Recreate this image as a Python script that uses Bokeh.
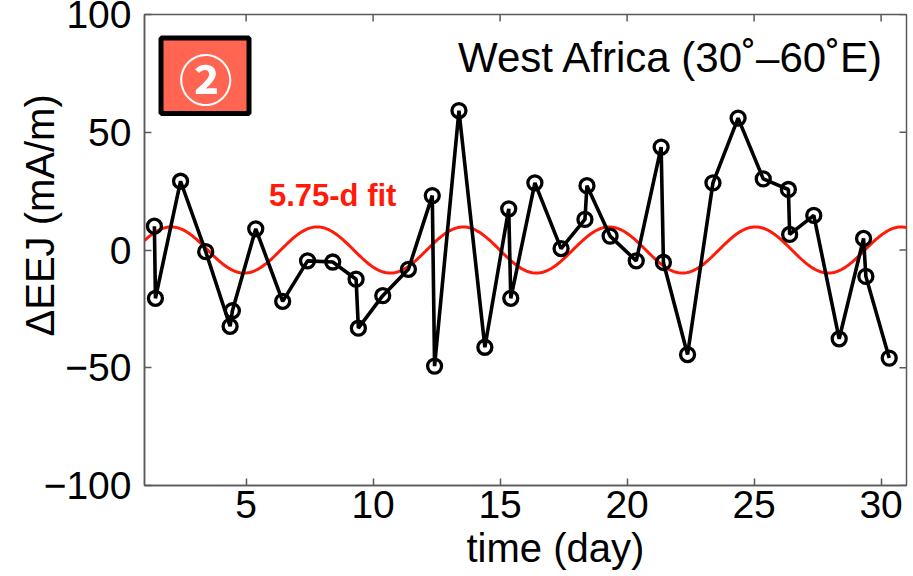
import numpy as np
from bokeh.plotting import figure
from bokeh.models import Range1d, FixedTicker, BoxAnnotation, Label, Title
from bokeh.embed import file_html
from bokeh.resources import INLINE

# ---- data ----
days = [1.39, 1.43, 2.42, 3.41, 4.37, 4.46, 5.38, 6.44, 7.42, 8.41,
        9.33, 9.42, 10.38, 11.39, 12.33, 12.42, 13.38, 14.40, 15.34, 15.42,
        16.37, 17.40, 18.34, 18.42, 19.33, 20.36, 21.34, 21.43, 22.38, 23.38,
        24.37, 25.36, 26.35, 26.40, 27.35, 28.35, 29.31, 29.40, 30.32]
delta_eej = [10.1, -20.5, 29.2, -0.7, -32.4, -25.8, 9.0, -21.8, -4.6, -5.1,
             -12.4, -33.2, -19.4, -8.2, 23.1, -49.3, 59.2, -41.3, 17.5, -20.5,
             28.5, 0.6, 13.0, 27.3, 5.9, -4.6, 43.7, -5.3, -44.4, 28.5,
             56.0, 30.2, 25.7, 6.6, 14.7, -37.7, 4.9, -11.2, -45.9]

# 5.75-day sinusoidal fit parameters
FIT_PERIOD = 5.75
FIT_AMP = 9.8
FIT_PEAK = 2.05

x_ticks = [5, 10, 15, 20, 25, 30]
y_ticks = [-100, -50, 0, 50, 100]
y_tick_labels = {-100: "\u2212100", -50: "\u221250", 0: "0", 50: "50", 100: "100"}
X_MIN, X_MAX = 1, 31
Y_MIN, Y_MAX = -100, 100

AX_COLOR = "#5a5a5a"
FONT = "Liberation Sans"

p = figure(width=913, height=576, x_range=Range1d(X_MIN, X_MAX), y_range=Range1d(Y_MIN, Y_MAX),
           output_backend="svg", toolbar_location=None, title=None,
           min_border_left=144, min_border_right=7, min_border_top=14, min_border_bottom=89)
p.grid.visible = False
p.background_fill_color = "white"
p.border_fill_color = "white"
p.outline_line_color = AX_COLOR
p.outline_line_width = 1.5

for ax in (p.xaxis[0], p.yaxis[0]):
    ax.axis_line_color = AX_COLOR
    ax.axis_line_width = 1.5
    ax.major_tick_line_color = AX_COLOR
    ax.major_tick_line_width = 1.5
    ax.major_tick_in = 7
    ax.major_tick_out = 0
    ax.minor_tick_line_color = None
    ax.major_label_text_font = FONT
    ax.major_label_text_color = "black"
    ax.major_label_text_font_size = "39px"

p.xaxis.ticker = FixedTicker(ticks=x_ticks)
p.yaxis.ticker = FixedTicker(ticks=y_ticks)
p.yaxis.major_label_overrides = y_tick_labels
p.yaxis.major_label_standoff = 13
p.xaxis.major_label_standoff = 5

# inward ticks on the top and right edges of the box
p.scatter(x_ticks, [Y_MAX] * len(x_ticks), marker="dash", angle=np.pi / 2, size=14,
          line_color=AX_COLOR, line_width=1.5)
p.scatter([X_MAX] * len(y_ticks), y_ticks, marker="dash", size=14,
          line_color=AX_COLOR, line_width=1.5)

# fit curve
t_fit = np.linspace(X_MIN, X_MAX, 400)
fit_vals = FIT_AMP * np.cos(2 * np.pi * (t_fit - FIT_PEAK) / FIT_PERIOD)
p.line(t_fit, fit_vals, line_color="#ff1a0a", line_width=3)

# data
p.line(days, delta_eej, line_color="black", line_width=3.6)
p.scatter(days, delta_eej, marker="circle", size=14, fill_color=None,
          line_color="black", line_width=3.3)

# annotations
p.add_layout(Label(x=5.9, y=23.2, text="5.75-d fit", text_color="#ff1a0a",
                   text_font=FONT, text_font_style="bold", text_font_size="31px",
                   text_baseline="alphabetic", text_align="left"))
p.add_layout(Label(x=30.13, y=81.7, text="West Africa (30\u02da\u201360\u02daE)",
                   text_color="black", text_font=FONT, text_font_size="42px",
                   text_baseline="alphabetic", text_align="right"))

badge = BoxAnnotation(left=1.65, right=5.115, bottom=57.95, top=90.05,
                      fill_color="#ff6551", fill_alpha=1.0,
                      line_color="black", line_width=5, line_alpha=1.0)
p.add_layout(badge)
p.add_layout(Label(x=3.41, y=73.2, text="\u2461", text_color="white",
                   text_font="Noto Sans CJK JP", text_font_style="bold",
                   text_font_size="54px",
                   text_align="center", text_baseline="middle"))

# axis titles (as side titles so that they can be offset like the reference)
ylab = Title(text="\u0394EEJ (mA/m)", align="left", vertical_align="bottom", offset=149,
             text_font=FONT, text_font_size="40px", text_font_style="normal",
             text_color="black")
try:
    ylab.standoff = -42
except Exception:
    ylab.standoff = 0
p.add_layout(ylab, "left")

xlab = Title(text="time (day)", align="left", vertical_align="top", offset=322,
             text_font=FONT, text_font_size="40px", text_font_style="normal",
             text_color="black")
xlab.standoff = 10
p.add_layout(xlab, "below")

open("out.html", "w").write(file_html(p, INLINE))
